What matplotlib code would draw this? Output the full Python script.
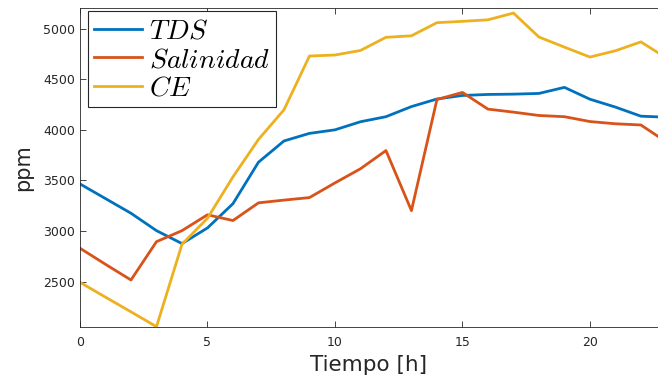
import matplotlib
matplotlib.use("Agg")
import matplotlib.pyplot as plt

# hourly readings
hours = list(range(24))
tds = [3465, 3320, 3175, 3003, 2875, 3030, 3270, 3680, 3890, 3965, 4000, 4080,
       4130, 4230, 4305, 4340, 4350, 4353, 4360, 4420, 4303, 4225, 4135, 4125]
salinidad = [2829, 2670, 2515, 2894, 3003, 3160, 3103, 3278, 3305, 3330, 3475, 3615,
             3795, 3201, 4300, 4370, 4205, 4175, 4142, 4130, 4082, 4060, 4048, 3880]
ce = [2492, 2345, 2200, 2053, 2868, 3126, 3535, 3905, 4198, 4730, 4740, 4785,
      4915, 4930, 5060, 5073, 5088, 5155, 4918, 4818, 4720, 4782, 4870, 4710]

plt.rcParams['font.family'] = 'DejaVu Sans'
plt.rcParams['mathtext.fontset'] = 'cm'

fig = plt.figure(figsize=(6.58, 3.83), dpi=100)
ax = fig.add_axes([80/658, 56.5/383, 578/658, 318.5/383])

ax.plot(hours, tds, color='#0072BD', lw=2.0, label='$TDS$')
ax.plot(hours, salinidad, color='#D95319', lw=2.0, label='$Salinidad$')
ax.plot(hours, ce, color='#EDB120', lw=2.0, label='$CE$')

ax.set_xlim(0, 22.67)
ax.set_ylim(2055, 5205)
ax.set_xticks([0, 5, 10, 15, 20])
ax.set_yticks([2500, 3000, 3500, 4000, 4500, 5000])
ax.tick_params(direction='in', length=4, width=0.6, labelsize=9,
               colors='#262626', top=True, right=False)
ax.tick_params(axis='x', pad=7)
ax.spines['right'].set_visible(False)
for s in ax.spines.values():
    s.set_color('#262626')
    s.set_linewidth(0.6)

ax.set_xlabel('Tiempo [h]', fontsize=15.5, color='#262626', labelpad=4)
ax.set_ylabel('ppm', fontsize=15, color='#262626', labelpad=7)

leg = ax.legend(loc='upper left', bbox_to_anchor=(8/578, 1 - 3/318.5),
                borderaxespad=0, fontsize=20, frameon=True, fancybox=False,
                edgecolor='#262626', framealpha=1,
                handlelength=1.75, handletextpad=0.25, labelspacing=0.02,
                borderpad=0.2)
leg.get_frame().set_linewidth(0.8)

fig.savefig('out.png', dpi=100)
